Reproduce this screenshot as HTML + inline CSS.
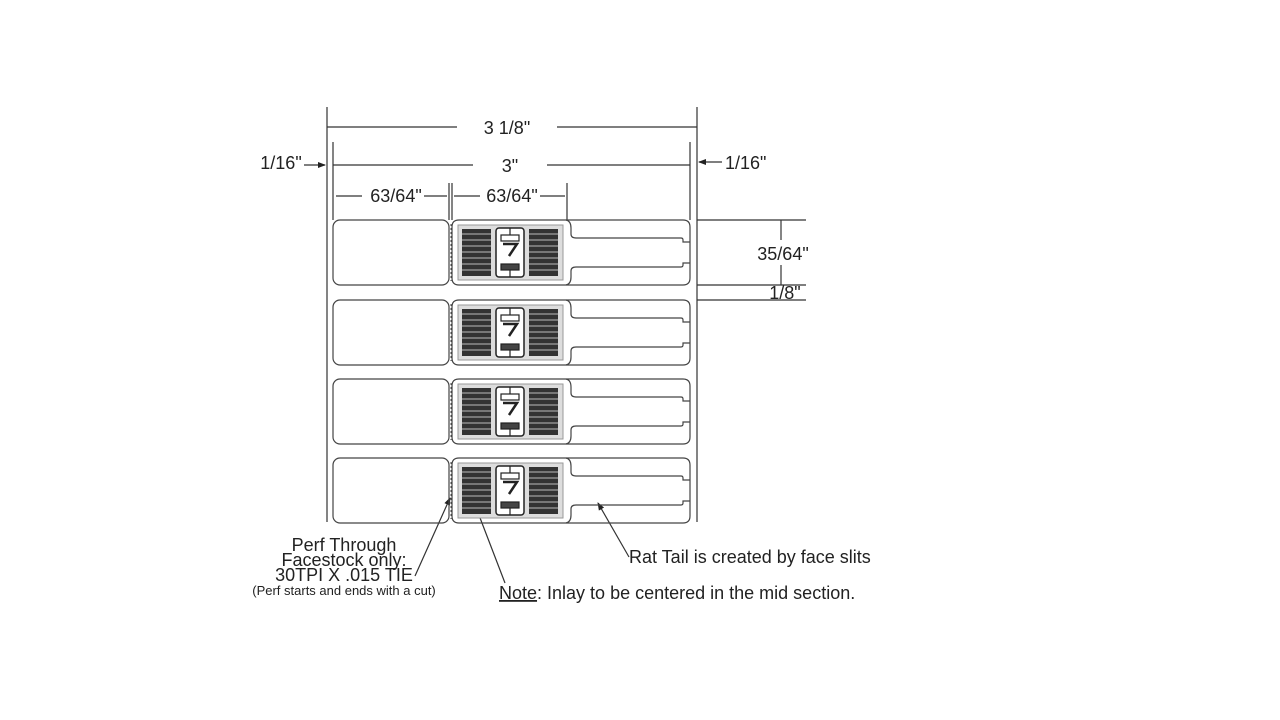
<!DOCTYPE html>
<html><head><meta charset="utf-8"><style>
html,body{margin:0;padding:0;background:#fff;width:1280px;height:720px;overflow:hidden}
text{font-family:"Liberation Sans",Arial,sans-serif;fill:#222}
</style></head><body>
<svg width="1280" height="720" viewBox="0 0 1280 720" xmlns="http://www.w3.org/2000/svg">
<defs>
<marker id="ar" markerWidth="8" markerHeight="8" refX="7" refY="4" orient="auto" markerUnits="userSpaceOnUse">
<path d="M0,1 L8,4 L0,7 Z" fill="#222"/></marker>
<g id="row" fill="none" stroke="#444" stroke-width="1.2">
<rect x="333" y="0" width="116" height="65" rx="7"/>
<path d="M459,0 H683 Q690,0 690,7 V58 Q690,65 683,65 H459 Q452,65 452,58 V7 Q452,0 459,0 Z"/>
<path d="M566,0 Q571,1 571,8 V14 Q571,18 576,18 H681 Q683,18 683,20 V22 H690"/>
<path d="M566,65 Q571,64 571,57 V51 Q571,47 576,47 H681 Q683,47 683,45 V43 H690"/>
<line x1="451" y1="4" x2="451" y2="61" stroke-dasharray="2,2" stroke-width="1"/>
<rect x="458" y="5" width="105" height="55" fill="#ddd" stroke="#999" stroke-width="1"/>
<rect x="462" y="9" width="29" height="47" fill="#333" stroke="none"/>
<rect x="529" y="9" width="29" height="47" fill="#333" stroke="none"/>
<g stroke="#bbb" stroke-width="1">
<line x1="462" y1="14" x2="491" y2="14"/><line x1="462" y1="20" x2="491" y2="20"/><line x1="462" y1="26" x2="491" y2="26"/><line x1="462" y1="32" x2="491" y2="32"/><line x1="462" y1="38" x2="491" y2="38"/><line x1="462" y1="44" x2="491" y2="44"/><line x1="462" y1="50" x2="491" y2="50"/>
<line x1="529" y1="14" x2="558" y2="14"/><line x1="529" y1="20" x2="558" y2="20"/><line x1="529" y1="26" x2="558" y2="26"/><line x1="529" y1="32" x2="558" y2="32"/><line x1="529" y1="38" x2="558" y2="38"/><line x1="529" y1="44" x2="558" y2="44"/><line x1="529" y1="50" x2="558" y2="50"/>
</g>
<rect x="496" y="8" width="28" height="49" rx="3" fill="#fff" stroke="#222" stroke-width="1.5"/>
<rect x="501" y="15" width="18" height="6" fill="#fff" stroke="#222"/>
<line x1="510" y1="8" x2="510" y2="15" stroke="#222"/>
<path d="M503,24 H517 L509,36" stroke="#222" stroke-width="2.5"/>
<rect x="501" y="44" width="18" height="6" fill="#444" stroke="#222"/>
<line x1="510" y1="50" x2="510" y2="57" stroke="#222"/>
</g>
</defs>
<g stroke="#333" stroke-width="1.2" fill="none">
<line x1="327" y1="107" x2="327" y2="522"/>
<line x1="697" y1="107" x2="697" y2="522"/>
<line x1="327" y1="127" x2="457" y2="127"/><line x1="557" y1="127" x2="697" y2="127"/>
<line x1="333" y1="142" x2="333" y2="220"/><line x1="690" y1="142" x2="690" y2="220"/>
<line x1="333" y1="165" x2="473" y2="165"/><line x1="547" y1="165" x2="690" y2="165"/>
<line x1="449" y1="183" x2="449" y2="220"/><line x1="452" y1="183" x2="452" y2="220"/><line x1="567" y1="183" x2="567" y2="220"/>
<line x1="336" y1="196" x2="362" y2="196"/><line x1="424" y1="196" x2="447" y2="196"/>
<line x1="454" y1="196" x2="480" y2="196"/><line x1="540" y1="196" x2="565" y2="196"/>
<line x1="304" y1="165" x2="325" y2="165" marker-end="url(#ar)"/>
<line x1="722" y1="162" x2="699" y2="162" marker-end="url(#ar)"/>
<line x1="697" y1="220" x2="806" y2="220"/>
<line x1="697" y1="285" x2="806" y2="285"/>
<line x1="697" y1="300" x2="806" y2="300"/>
<line x1="781" y1="220" x2="781" y2="240"/><line x1="781" y1="265" x2="781" y2="285"/>
<line x1="415" y1="576" x2="450" y2="498" marker-end="url(#ar)"/>
<line x1="505" y1="583" x2="477" y2="510" marker-end="url(#ar)"/>
<line x1="629" y1="557" x2="598" y2="503" marker-end="url(#ar)"/>
</g>
<use href="#row" transform="translate(0,220)"/>
<use href="#row" transform="translate(0,300)"/>
<use href="#row" transform="translate(0,379)"/>
<use href="#row" transform="translate(0,458)"/>
<g font-size="18">
<text x="507" y="134" text-anchor="middle">3 1/8"</text>
<text x="510" y="172" text-anchor="middle">3"</text>
<text x="396" y="202" text-anchor="middle">63/64"</text>
<text x="512" y="202" text-anchor="middle">63/64"</text>
<text x="281" y="169" text-anchor="middle">1/16"</text>
<text x="725" y="169">1/16"</text>
<text x="783" y="260" text-anchor="middle">35/64"</text>
<text x="785" y="299" text-anchor="middle">1/8"</text>
<text x="344" y="551" text-anchor="middle">Perf Through</text>
<text x="344" y="566" text-anchor="middle">Facestock only:</text>
<text x="344" y="581" text-anchor="middle">30TPI X .015 TIE</text>
<text x="629" y="563">Rat Tail is created by face slits</text>
<text x="499" y="599"><tspan text-decoration="underline">Note</tspan>: Inlay to be centered in the mid section.</text>
</g>
<text x="344" y="595" text-anchor="middle" font-size="13">(Perf starts and ends with a cut)</text>
</svg>
</body></html>
